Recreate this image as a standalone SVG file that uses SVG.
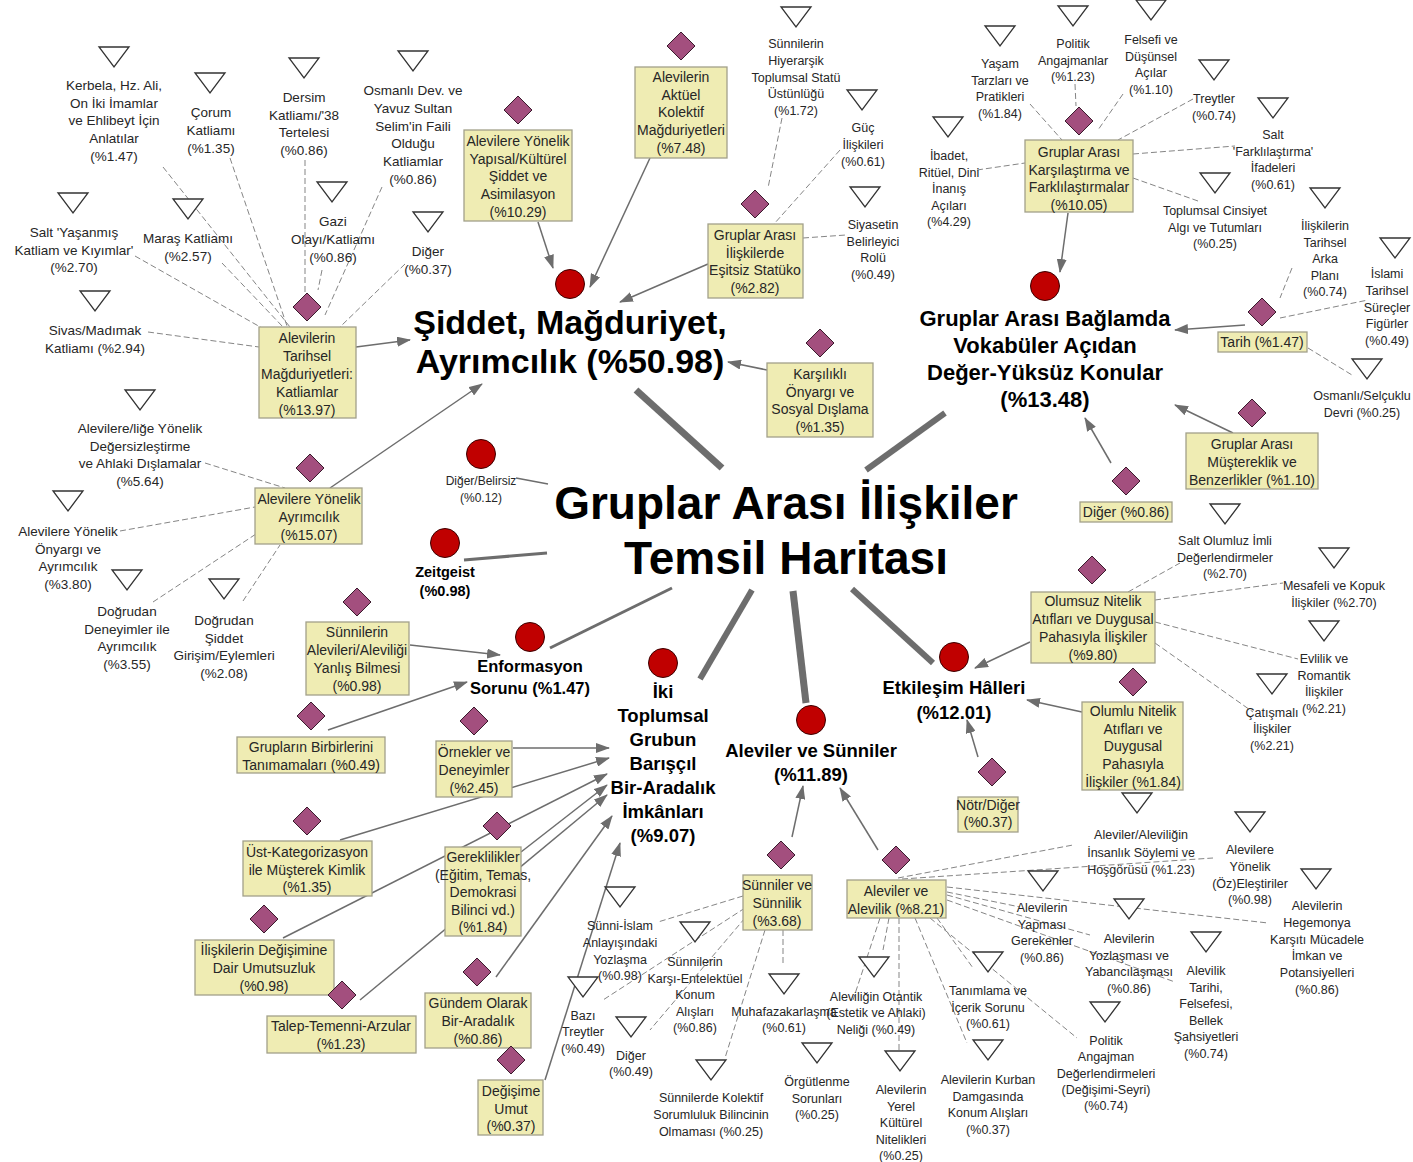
<svg xmlns="http://www.w3.org/2000/svg" width="1413" height="1162" viewBox="0 0 1413 1162">
<defs>
<style>
text{font-family:"Liberation Sans",Arial,sans-serif;text-anchor:middle;fill:#262626}
.b{font-size:14px}
.l{font-size:13.5px}
.s{font-size:12.5px}
.t1{font-weight:bold;fill:#000}
.box{fill:#efecb3;stroke:#a2a08a;stroke-width:1.3}
.dia{fill:#a34f7e;stroke:#3a1a2c;stroke-width:1}
.tri{fill:#fff;stroke:#333;stroke-width:1.3}
.dot{fill:#c00000;stroke:#3c0000;stroke-width:1}
.th{stroke:#6d6d6d;fill:none}
.ar{stroke:#6d6d6d;stroke-width:1.5;fill:none;marker-end:url(#ah)}
.da{stroke:#858585;stroke-width:1;stroke-dasharray:6 3;fill:none}
</style>
<marker id="ah" viewBox="0 0 14 10" refX="13" refY="5" markerWidth="14" markerHeight="10" markerUnits="userSpaceOnUse" orient="auto"><path d="M0,0 L14,5 L0,10 Z" fill="#6d6d6d"/></marker>
<path id="dm" d="M0,-14 L14,0 L0,14 L-14,0Z"/>
<path id="tr" d="M-15,-10 L15,-10 L0,10Z"/>
</defs>
<rect width="1413" height="1162" fill="#fff"/>

<g id="connectors">
<line class="th" stroke-width="7" x1="722" y1="468" x2="636" y2="390"/>
<line class="th" stroke-width="6" x1="866" y1="470" x2="945" y2="413"/>
<line class="th" stroke-width="1.5" x1="548" y1="484" x2="516" y2="478"/>
<line class="th" stroke-width="3" x1="547" y1="553" x2="464" y2="560"/>
<line class="th" stroke-width="3" x1="550" y1="648" x2="672" y2="588"/>
<line class="th" stroke-width="6" x1="752" y1="590" x2="700" y2="679"/>
<line class="th" stroke-width="7" x1="793" y1="591" x2="806" y2="703"/>
<line class="th" stroke-width="6" x1="852" y1="589" x2="933" y2="663"/>

<line class="ar" x1="356" y1="347" x2="410" y2="340"/>
<line class="ar" x1="538" y1="222" x2="553" y2="268"/>
<line class="ar" x1="650" y1="158" x2="590" y2="287"/>
<line class="ar" x1="708" y1="264" x2="620" y2="302"/>
<line class="ar" x1="767" y1="370" x2="728" y2="362"/>
<line class="ar" x1="330" y1="488" x2="482" y2="384"/>
<line class="ar" x1="410" y1="645" x2="500" y2="655"/>
<line class="ar" x1="328" y1="730" x2="467" y2="682"/>
<line class="ar" x1="513" y1="748" x2="609" y2="748"/>
<line class="ar" x1="340" y1="840" x2="609" y2="758"/>
<line class="ar" x1="283" y1="938" x2="607" y2="774"/>
<line class="ar" x1="521" y1="852" x2="607" y2="785"/>
<line class="ar" x1="360" y1="1000" x2="607" y2="795"/>
<line class="ar" x1="496" y1="977" x2="612" y2="816"/>
<line class="ar" x1="545" y1="1080" x2="620" y2="843"/>
<line class="ar" x1="792" y1="837" x2="803" y2="786"/>
<line class="ar" x1="878" y1="850" x2="840" y2="788"/>
<line class="ar" x1="1030" y1="642" x2="975" y2="668"/>
<line class="ar" x1="1082" y1="712" x2="1027" y2="700"/>
<line class="ar" x1="978" y1="757" x2="967" y2="720"/>
<line class="ar" x1="1068" y1="213" x2="1060" y2="272"/>
<line class="ar" x1="1245" y1="325" x2="1175" y2="330"/>
<line class="ar" x1="1233" y1="433" x2="1175" y2="405"/>
<line class="ar" x1="1111" y1="463" x2="1085" y2="418"/>

<line class="da" x1="163" y1="167" x2="290" y2="327"/>
<line class="da" x1="230" y1="158" x2="287" y2="326"/>
<line class="da" x1="305" y1="160" x2="305" y2="292"/>
<line class="da" x1="322" y1="270" x2="318" y2="290"/>
<line class="da" x1="382" y1="187" x2="325" y2="315"/>
<line class="da" x1="405" y1="264" x2="340" y2="327"/>
<line class="da" x1="135" y1="256" x2="262" y2="328"/>
<line class="da" x1="222" y1="263" x2="283" y2="327"/>
<line class="da" x1="148" y1="332" x2="259" y2="347"/>
<line class="da" x1="782" y1="118" x2="768" y2="188"/>
<line class="da" x1="840" y1="150" x2="774" y2="224"/>
<line class="da" x1="803" y1="238" x2="846" y2="235"/>
<line class="da" x1="1030" y1="104" x2="1062" y2="140"/>
<line class="da" x1="1075" y1="84" x2="1076" y2="106"/>
<line class="da" x1="1123" y1="94" x2="1098" y2="130"/>
<line class="da" x1="1193" y1="99" x2="1118" y2="140"/>
<line class="da" x1="1133" y1="154" x2="1235" y2="146"/>
<line class="da" x1="1133" y1="178" x2="1198" y2="201"/>
<line class="da" x1="977" y1="170" x2="1025" y2="163"/>
<line class="da" x1="1292" y1="268" x2="1280" y2="298"/>
<line class="da" x1="1280" y1="318" x2="1368" y2="300"/>
<line class="da" x1="1308" y1="348" x2="1352" y2="375"/>
<line class="da" x1="205" y1="463" x2="285" y2="488"/>
<line class="da" x1="120" y1="531" x2="255" y2="507"/>
<line class="da" x1="153" y1="602" x2="256" y2="534"/>
<line class="da" x1="243" y1="601" x2="280" y2="545"/>
<line class="da" x1="1128" y1="592" x2="1180" y2="563"/>
<line class="da" x1="1155" y1="600" x2="1283" y2="583"/>
<line class="da" x1="1155" y1="622" x2="1298" y2="659"/>
<line class="da" x1="1155" y1="643" x2="1253" y2="712"/>
<line class="da" x1="743" y1="896" x2="658" y2="922"/>
<line class="da" x1="745" y1="908" x2="603" y2="1000"/>
<line class="da" x1="745" y1="918" x2="650" y2="1030"/>
<line class="da" x1="765" y1="930" x2="725" y2="1058"/>
<line class="da" x1="783" y1="930" x2="783" y2="965"/>
<line class="da" x1="898" y1="878" x2="1073" y2="845"/>
<line class="da" x1="902" y1="879" x2="1213" y2="858"/>
<line class="da" x1="947" y1="887" x2="1268" y2="923"/>
<line class="da" x1="947" y1="892" x2="1020" y2="907"/>
<line class="da" x1="947" y1="895" x2="1090" y2="935"/>
<line class="da" x1="947" y1="900" x2="1175" y2="982"/>
<line class="da" x1="930" y1="918" x2="1077" y2="1038"/>
<line class="da" x1="937" y1="918" x2="973" y2="968"/>
<line class="da" x1="915" y1="918" x2="967" y2="1043"/>
<line class="da" x1="899" y1="918" x2="899" y2="1050"/>
<line class="da" x1="880" y1="918" x2="853" y2="1000"/>
<line class="da" x1="889" y1="918" x2="883" y2="950"/>
</g>

<g id="center"><text class="t1" x="786" y="519" font-size="46">Gruplar Arası İlişkiler</text><text class="t1" x="786" y="574" font-size="46">Temsil Haritası</text></g>

<g id="cat-siddet"><circle class="dot" cx="570" cy="284" r="14.5"/><text class="t1" font-size="34" x="570" y="334">Şiddet, Mağduriyet,</text><text class="t1" font-size="34" x="570" y="373">Ayrımcılık (%50.98)</text></g>
<g id="cat-baglam"><circle class="dot" cx="1045" cy="286" r="14.5"/><text class="t1" font-size="22" x="1045" y="326"><tspan x="1045">Gruplar Arası Bağlamda</tspan><tspan x="1045" dy="27">Vokabüler Açıdan</tspan><tspan x="1045" dy="27">Değer-Yüksüz Konular</tspan><tspan x="1045" dy="27">(%13.48)</tspan></text></g>
<g id="cat-belirsiz"><circle class="dot" cx="481" cy="454" r="14.5"/><text font-size="12" x="481" y="485"><tspan x="481">Diğer/Belirsiz</tspan><tspan x="481" dy="17">(%0.12)</tspan></text></g>
<g id="cat-zeitgeist"><circle class="dot" cx="445" cy="543" r="14.5"/><text class="t1" font-size="14.5" x="445" y="577"><tspan x="445">Zeitgeist</tspan><tspan x="445" dy="19">(%0.98)</tspan></text></g>
<g id="cat-enformasyon"><circle class="dot" cx="530" cy="637" r="14.5"/><text class="t1" font-size="16.5" x="530" y="672"><tspan x="530">Enformasyon</tspan><tspan x="530" dy="22">Sorunu (%1.47)</tspan></text></g>
<g id="cat-iki"><circle class="dot" cx="663" cy="663" r="14.5"/><text class="t1" font-size="18.5" x="663" y="698"><tspan x="663">İki</tspan><tspan x="663" dy="24">Toplumsal</tspan><tspan x="663" dy="24">Grubun</tspan><tspan x="663" dy="24">Barışçıl</tspan><tspan x="663" dy="24">Bir-Aradalık</tspan><tspan x="663" dy="24">İmkânları</tspan><tspan x="663" dy="24">(%9.07)</tspan></text></g>
<g id="cat-avs"><circle class="dot" cx="811" cy="720" r="14.5"/><text class="t1" font-size="18.5" x="811" y="757"><tspan x="811">Aleviler ve Sünniler</tspan><tspan x="811" dy="24">(%11.89)</tspan></text></g>
<g id="cat-etkilesim"><circle class="dot" cx="954" cy="657" r="14.5"/><text class="t1" font-size="18.5" x="954" y="694"><tspan x="954">Etkileşim Hâlleri</tspan><tspan x="954" dy="25">(%12.01)</tspan></text></g>

<g id="b-katliamlar"><use href="#dm" class="dia" x="307" y="307"/><rect class="box" x="259" y="327" width="97" height="91"/><text class="b" x="307" y="343"><tspan x="307">Alevilerin</tspan><tspan x="307" dy="18">Tarihsel</tspan><tspan x="307" dy="18">Mağduriyetleri:</tspan><tspan x="307" dy="18">Katliamlar</tspan><tspan x="307" dy="18">(%13.97)</tspan></text></g>
<g id="b-yapisal"><use href="#dm" class="dia" x="518" y="110"/><rect class="box" x="464" y="130" width="108" height="91"/><text class="b" x="518" y="146"><tspan x="518">Alevilere Yönelik</tspan><tspan x="518" dy="17.7">Yapısal/Kültürel</tspan><tspan x="518" dy="17.7">Şiddet ve</tspan><tspan x="518" dy="17.7">Asimilasyon</tspan><tspan x="518" dy="17.7">(%10.29)</tspan></text></g>
<g id="b-aktuel"><use href="#dm" class="dia" x="681" y="46"/><rect class="box" x="635" y="67" width="92" height="91"/><text class="b" x="681" y="82"><tspan x="681">Alevilerin</tspan><tspan x="681" dy="17.7">Aktüel</tspan><tspan x="681" dy="17.7">Kolektif</tspan><tspan x="681" dy="17.7">Mağduriyetleri</tspan><tspan x="681" dy="17.7">(%7.48)</tspan></text></g>
<g id="b-statuko"><use href="#dm" class="dia" x="755" y="204"/><rect class="box" x="708" y="224" width="95" height="74"/><text class="b" x="755" y="240"><tspan x="755">Gruplar Arası</tspan><tspan x="755" dy="17.7">İlişkilerde</tspan><tspan x="755" dy="17.7">Eşitsiz Statüko</tspan><tspan x="755" dy="17.7">(%2.82)</tspan></text></g>
<g id="b-karsilikli"><use href="#dm" class="dia" x="820" y="343"/><rect class="box" x="767" y="363" width="106" height="74"/><text class="b" x="820" y="379"><tspan x="820">Karşılıklı</tspan><tspan x="820" dy="17.7">Önyargı ve</tspan><tspan x="820" dy="17.7">Sosyal Dışlama</tspan><tspan x="820" dy="17.7">(%1.35)</tspan></text></g>
<g id="b-ayrimcilik"><use href="#dm" class="dia" x="310" y="468"/><rect class="box" x="255" y="488" width="107" height="56"/><text class="b" x="309" y="504"><tspan x="309">Alevilere Yönelik</tspan><tspan x="309" dy="18">Ayrımcılık</tspan><tspan x="309" dy="18">(%15.07)</tspan></text></g>
<g id="b-yanlis"><use href="#dm" class="dia" x="357" y="602"/><rect class="box" x="306" y="622" width="103" height="73"/><text class="b" x="357" y="637"><tspan x="357">Sünnilerin</tspan><tspan x="357" dy="18">Alevileri/Aleviliği</tspan><tspan x="357" dy="18">Yanlış Bilmesi</tspan><tspan x="357" dy="18">(%0.98)</tspan></text></g>
<g id="b-tanimama"><use href="#dm" class="dia" x="311" y="716"/><rect class="box" x="237" y="737" width="148" height="36"/><text class="b" x="311" y="752"><tspan x="311">Grupların Birbirlerini</tspan><tspan x="311" dy="18">Tanımamaları (%0.49)</tspan></text></g>
<g id="b-ornekler"><use href="#dm" class="dia" x="474" y="721"/><rect class="box" x="436" y="741" width="76" height="56"/><text class="b" x="474" y="757"><tspan x="474">Örnekler ve</tspan><tspan x="474" dy="18">Deneyimler</tspan><tspan x="474" dy="18">(%2.45)</tspan></text></g>
<g id="b-ustkat"><use href="#dm" class="dia" x="307" y="821"/><rect class="box" x="243" y="841" width="129" height="55"/><text class="b" x="307" y="857"><tspan x="307">Üst-Kategorizasyon</tspan><tspan x="307" dy="17.7">ile Müşterek Kimlik</tspan><tspan x="307" dy="17.7">(%1.35)</tspan></text></g>
<g id="b-gereklilik"><use href="#dm" class="dia" x="497" y="826"/><rect class="box" x="445" y="847" width="76" height="89"/><text class="b" x="483" y="862"><tspan x="483">Gereklilikler</tspan><tspan x="483" dy="17.6">(Eğitim, Temas,</tspan><tspan x="483" dy="17.6">Demokrasi</tspan><tspan x="483" dy="17.6">Bilinci vd.)</tspan><tspan x="483" dy="17.6">(%1.84)</tspan></text></g>
<g id="b-umutsuzluk"><use href="#dm" class="dia" x="264" y="919"/><rect class="box" x="195" y="940" width="139" height="55"/><text class="b" x="264" y="955"><tspan x="264">İlişkilerin Değişimine</tspan><tspan x="264" dy="18">Dair Umutsuzluk</tspan><tspan x="264" dy="18">(%0.98)</tspan></text></g>
<g id="b-talep"><use href="#dm" class="dia" x="342" y="995"/><rect class="box" x="267" y="1016" width="149" height="37"/><text class="b" x="341" y="1031"><tspan x="341">Talep-Temenni-Arzular</tspan><tspan x="341" dy="18">(%1.23)</tspan></text></g>
<g id="b-gundem"><use href="#dm" class="dia" x="477" y="972"/><rect class="box" x="425" y="993" width="106" height="55"/><text class="b" x="478" y="1008"><tspan x="478">Gündem Olarak</tspan><tspan x="478" dy="18">Bir-Aradalık</tspan><tspan x="478" dy="18">(%0.86)</tspan></text></g>
<g id="b-umut"><use href="#dm" class="dia" x="511" y="1060"/><rect class="box" x="478" y="1080" width="65" height="55"/><text class="b" x="511" y="1096"><tspan x="511">Değişime</tspan><tspan x="511" dy="17.5">Umut</tspan><tspan x="511" dy="17.5">(%0.37)</tspan></text></g>
<g id="b-sunniler"><use href="#dm" class="dia" x="781" y="855"/><rect class="box" x="743" y="875" width="69" height="55"/><text class="b" x="777" y="890" font-size="13.5"><tspan x="777">Sünniler ve</tspan><tspan x="777" dy="18">Sünnilik</tspan><tspan x="777" dy="18">(%3.68)</tspan></text></g>
<g id="b-aleviler"><use href="#dm" class="dia" x="896" y="860"/><rect class="box" x="847" y="880" width="99" height="38"/><text class="b" x="896" y="896"><tspan x="896">Aleviler ve</tspan><tspan x="896" dy="18">Alevilik (%8.21)</tspan></text></g>
<g id="b-olumsuz"><use href="#dm" class="dia" x="1092" y="570"/><rect class="box" x="1031" y="592" width="124" height="71"/><text class="b" x="1093" y="606"><tspan x="1093">Olumsuz Nitelik</tspan><tspan x="1093" dy="18">Atıfları ve Duygusal</tspan><tspan x="1093" dy="18">Pahasıyla İlişkiler</tspan><tspan x="1093" dy="18">(%9.80)</tspan></text></g>
<g id="b-olumlu"><use href="#dm" class="dia" x="1133" y="682"/><rect class="box" x="1082" y="702" width="101" height="88"/><text class="b" x="1133" y="716"><tspan x="1133">Olumlu Nitelik</tspan><tspan x="1133" dy="17.7">Atıfları ve</tspan><tspan x="1133" dy="17.7">Duygusal</tspan><tspan x="1133" dy="17.7">Pahasıyla</tspan><tspan x="1133" dy="17.7">İlişkiler (%1.84)</tspan></text></g>
<g id="b-notr"><use href="#dm" class="dia" x="992" y="772"/><rect class="box" x="958" y="797" width="60" height="35"/><text class="b" x="988" y="810" font-size="13"><tspan x="988">Nötr/Diğer</tspan><tspan x="988" dy="17">(%0.37)</tspan></text></g>
<g id="b-karsilastirma"><use href="#dm" class="dia" x="1079" y="121"/><rect class="box" x="1025" y="140" width="108" height="72"/><text class="b" x="1079" y="157"><tspan x="1079">Gruplar Arası</tspan><tspan x="1079" dy="17.5">Karşılaştırma ve</tspan><tspan x="1079" dy="17.5">Farklılaştırmalar</tspan><tspan x="1079" dy="17.5">(%10.05)</tspan></text></g>
<g id="b-tarih"><use href="#dm" class="dia" x="1262" y="312"/><rect class="box" x="1218" y="332" width="89" height="20"/><text class="b" x="1262" y="347">Tarih (%1.47)</text></g>
<g id="b-musterek"><use href="#dm" class="dia" x="1252" y="413"/><rect class="box" x="1186" y="433" width="132" height="56"/><text class="b" x="1252" y="449"><tspan x="1252">Gruplar Arası</tspan><tspan x="1252" dy="18">Müştereklik ve</tspan><tspan x="1252" dy="18">Benzerlikler (%1.10)</tspan></text></g>
<g id="b-diger2"><use href="#dm" class="dia" x="1126" y="481"/><rect class="box" x="1080" y="502" width="92" height="20"/><text class="b" x="1126" y="517">Diğer (%0.86)</text></g>

<g id="t-kerbela"><use href="#tr" class="tri" x="114" y="57"/><text class="l" x="114" y="90"><tspan x="114">Kerbela, Hz. Ali,</tspan><tspan x="114" dy="17.7">On İki İmamlar</tspan><tspan x="114" dy="17.7">ve Ehlibeyt İçin</tspan><tspan x="114" dy="17.7">Anlatılar</tspan><tspan x="114" dy="17.7">(%1.47)</tspan></text></g>
<g id="t-corum"><use href="#tr" class="tri" x="210" y="83"/><text class="l" x="211" y="117"><tspan x="211">Çorum</tspan><tspan x="211" dy="18">Katliamı</tspan><tspan x="211" dy="18">(%1.35)</tspan></text></g>
<g id="t-dersim"><use href="#tr" class="tri" x="304" y="68"/><text class="l" x="304" y="102"><tspan x="304">Dersim</tspan><tspan x="304" dy="17.7">Katliamı/'38</tspan><tspan x="304" dy="17.7">Tertelesi</tspan><tspan x="304" dy="17.7">(%0.86)</tspan></text></g>
<g id="t-gazi"><use href="#tr" class="tri" x="332" y="192"/><text class="l" x="333" y="226"><tspan x="333">Gazi</tspan><tspan x="333" dy="18">Olayı/Katliamı</tspan><tspan x="333" dy="18">(%0.86)</tspan></text></g>
<g id="t-osmanli"><use href="#tr" class="tri" x="413" y="61"/><text class="l" x="413" y="95"><tspan x="413">Osmanlı Dev. ve</tspan><tspan x="413" dy="17.8">Yavuz Sultan</tspan><tspan x="413" dy="17.8">Selim'in Faili</tspan><tspan x="413" dy="17.8">Olduğu</tspan><tspan x="413" dy="17.8">Katliamlar</tspan><tspan x="413" dy="17.8">(%0.86)</tspan></text></g>
<g id="t-diger1"><use href="#tr" class="tri" x="428" y="222"/><text class="l" x="428" y="256"><tspan x="428">Diğer</tspan><tspan x="428" dy="18">(%0.37)</tspan></text></g>
<g id="t-salt"><use href="#tr" class="tri" x="73" y="203"/><text class="l" x="74" y="237"><tspan x="74">Salt 'Yaşanmış</tspan><tspan x="74" dy="17.5">Katliam ve Kıyımlar'</tspan><tspan x="74" dy="17.5">(%2.70)</tspan></text></g>
<g id="t-maras"><use href="#tr" class="tri" x="188" y="209"/><text class="l" x="188" y="243"><tspan x="188">Maraş Katliamı</tspan><tspan x="188" dy="18">(%2.57)</tspan></text></g>
<g id="t-sivas"><use href="#tr" class="tri" x="95" y="301"/><text class="l" x="95" y="335"><tspan x="95">Sivas/Madımak</tspan><tspan x="95" dy="18">Katliamı (%2.94)</tspan></text></g>
<g id="t-degersiz"><use href="#tr" class="tri" x="140" y="400"/><text class="l" x="140" y="433"><tspan x="140">Alevilere/liğe Yönelik</tspan><tspan x="140" dy="17.7">Değersizleştirme</tspan><tspan x="140" dy="17.7">ve Ahlaki Dışlamalar</tspan><tspan x="140" dy="17.7">(%5.64)</tspan></text></g>
<g id="t-onyargi"><use href="#tr" class="tri" x="68" y="501"/><text class="l" x="68" y="536"><tspan x="68">Alevilere Yönelik</tspan><tspan x="68" dy="17.7">Önyargı ve</tspan><tspan x="68" dy="17.7">Ayrımcılık</tspan><tspan x="68" dy="17.7">(%3.80)</tspan></text></g>
<g id="t-dogrudan1"><use href="#tr" class="tri" x="127" y="580"/><text class="l" x="127" y="616"><tspan x="127">Doğrudan</tspan><tspan x="127" dy="17.7">Deneyimler ile</tspan><tspan x="127" dy="17.7">Ayrımcılık</tspan><tspan x="127" dy="17.7">(%3.55)</tspan></text></g>
<g id="t-dogrudan2"><use href="#tr" class="tri" x="224" y="589"/><text class="l" x="224" y="625"><tspan x="224">Doğrudan</tspan><tspan x="224" dy="17.7">Şiddet</tspan><tspan x="224" dy="17.7">Girişim/Eylemleri</tspan><tspan x="224" dy="17.7">(%2.08)</tspan></text></g>

<g id="t-hiyerarsik"><use href="#tr" class="tri" x="796" y="17"/><text class="s" x="796" y="48"><tspan x="796">Sünnilerin</tspan><tspan x="796" dy="16.8">Hiyerarşik</tspan><tspan x="796" dy="16.8">Toplumsal Statü</tspan><tspan x="796" dy="16.8">Üstünlüğü</tspan><tspan x="796" dy="16.8">(%1.72)</tspan></text></g>
<g id="t-guc"><use href="#tr" class="tri" x="862" y="100"/><text class="s" x="863" y="132"><tspan x="863">Güç</tspan><tspan x="863" dy="17">İlişkileri</tspan><tspan x="863" dy="17">(%0.61)</tspan></text></g>
<g id="t-siyaset"><use href="#tr" class="tri" x="865" y="197"/><text class="s" x="873" y="229"><tspan x="873">Siyasetin</tspan><tspan x="873" dy="16.5">Belirleyici</tspan><tspan x="873" dy="16.5">Rolü</tspan><tspan x="873" dy="16.5">(%0.49)</tspan></text></g>
<g id="t-yasam"><use href="#tr" class="tri" x="1000" y="36"/><text class="s" x="1000" y="68"><tspan x="1000">Yaşam</tspan><tspan x="1000" dy="16.7">Tarzları ve</tspan><tspan x="1000" dy="16.7">Pratikleri</tspan><tspan x="1000" dy="16.7">(%1.84)</tspan></text></g>
<g id="t-politik"><use href="#tr" class="tri" x="1073" y="16"/><text class="s" x="1073" y="48"><tspan x="1073">Politik</tspan><tspan x="1073" dy="16.5">Angajmanlar</tspan><tspan x="1073" dy="16.5">(%1.23)</tspan></text></g>
<g id="t-felsefi"><use href="#tr" class="tri" x="1151" y="10"/><text class="s" x="1151" y="44"><tspan x="1151">Felsefi ve</tspan><tspan x="1151" dy="16.7">Düşünsel</tspan><tspan x="1151" dy="16.7">Açılar</tspan><tspan x="1151" dy="16.7">(%1.10)</tspan></text></g>
<g id="t-treytler"><use href="#tr" class="tri" x="1214" y="70"/><text class="s" x="1214" y="103"><tspan x="1214">Treytler</tspan><tspan x="1214" dy="17">(%0.74)</tspan></text></g>
<g id="t-saltfark"><use href="#tr" class="tri" x="1273" y="108"/><text class="s" x="1273" y="139"><tspan x="1273">Salt</tspan><tspan x="1273" dy="16.7">'Farklılaştırma'</tspan><tspan x="1273" dy="16.7">İfadeleri</tspan><tspan x="1273" dy="16.7">(%0.61)</tspan></text></g>
<g id="t-cinsiyet"><use href="#tr" class="tri" x="1215" y="183"/><text class="s" x="1215" y="215"><tspan x="1215">Toplumsal Cinsiyet</tspan><tspan x="1215" dy="16.5">Algı ve Tutumları</tspan><tspan x="1215" dy="16.5">(%0.25)</tspan></text></g>
<g id="t-ibadet"><use href="#tr" class="tri" x="948" y="127"/><text class="s" x="949" y="160"><tspan x="949">İbadet,</tspan><tspan x="949" dy="16.6">Ritüel, Dini</tspan><tspan x="949" dy="16.6">İnanış</tspan><tspan x="949" dy="16.6">Açıları</tspan><tspan x="949" dy="16.6">(%4.29)</tspan></text></g>
<g id="t-tarihsel"><use href="#tr" class="tri" x="1325" y="198"/><text class="s" x="1325" y="230"><tspan x="1325">İlişkilerin</tspan><tspan x="1325" dy="16.6">Tarihsel</tspan><tspan x="1325" dy="16.6">Arka</tspan><tspan x="1325" dy="16.6">Planı</tspan><tspan x="1325" dy="16.6">(%0.74)</tspan></text></g>
<g id="t-islami"><use href="#tr" class="tri" x="1395" y="248"/><text class="s" x="1387" y="278"><tspan x="1387">İslami</tspan><tspan x="1387" dy="16.8">Tarihsel</tspan><tspan x="1387" dy="16.8">Süreçler</tspan><tspan x="1387" dy="16.8">Figürler</tspan><tspan x="1387" dy="16.8">(%0.49)</tspan></text></g>
<g id="t-osmselc"><use href="#tr" class="tri" x="1367" y="369"/><text class="s" x="1362" y="400"><tspan x="1362">Osmanlı/Selçuklu</tspan><tspan x="1362" dy="17">Devri (%0.25)</tspan></text></g>

<g id="t-saltolumluz"><use href="#tr" class="tri" x="1225" y="514"/><text class="s" x="1225" y="545"><tspan x="1225">Salt Olumluz İmli</tspan><tspan x="1225" dy="16.5">Değerlendirmeler</tspan><tspan x="1225" dy="16.5">(%2.70)</tspan></text></g>
<g id="t-mesafeli"><use href="#tr" class="tri" x="1334" y="558"/><text class="s" x="1334" y="590"><tspan x="1334">Mesafeli ve Kopuk</tspan><tspan x="1334" dy="16.5">İlişkiler (%2.70)</tspan></text></g>
<g id="t-evlilik"><use href="#tr" class="tri" x="1324" y="631"/><text class="s" x="1324" y="663"><tspan x="1324">Evlilik ve</tspan><tspan x="1324" dy="16.5">Romantik</tspan><tspan x="1324" dy="16.5">İlişkiler</tspan><tspan x="1324" dy="16.5">(%2.21)</tspan></text></g>
<g id="t-catismali"><use href="#tr" class="tri" x="1272" y="684"/><text class="s" x="1272" y="717"><tspan x="1272">Çatışmalı</tspan><tspan x="1272" dy="16.3">İlişkiler</tspan><tspan x="1272" dy="16.3">(%2.21)</tspan></text></g>

<g id="t-sunniislam"><use href="#tr" class="tri" x="620" y="897"/><text class="s" x="620" y="930"><tspan x="620">Sünni-İslam</tspan><tspan x="620" dy="16.8">Anlayışındaki</tspan><tspan x="620" dy="16.8">Yozlaşma</tspan><tspan x="620" dy="16.8">(%0.98)</tspan></text></g>
<g id="t-karsient"><use href="#tr" class="tri" x="695" y="932"/><text class="s" x="695" y="966"><tspan x="695">Sünnilerin</tspan><tspan x="695" dy="16.5">Karşı-Entelektüel</tspan><tspan x="695" dy="16.5">Konum</tspan><tspan x="695" dy="16.5">Alışları</tspan><tspan x="695" dy="16.5">(%0.86)</tspan></text></g>
<g id="t-bazi"><use href="#tr" class="tri" x="583" y="987"/><text class="s" x="583" y="1020"><tspan x="583">Bazı</tspan><tspan x="583" dy="16.3">Treytler</tspan><tspan x="583" dy="16.3">(%0.49)</tspan></text></g>
<g id="t-diger3"><use href="#tr" class="tri" x="631" y="1027"/><text class="s" x="631" y="1060"><tspan x="631">Diğer</tspan><tspan x="631" dy="16.3">(%0.49)</tspan></text></g>
<g id="t-muhafaza"><use href="#tr" class="tri" x="784" y="984"/><text class="s" x="784" y="1016"><tspan x="784">Muhafazakarlaşma</tspan><tspan x="784" dy="16.3">(%0.61)</tspan></text></g>
<g id="t-kolektif"><use href="#tr" class="tri" x="711" y="1070"/><text class="s" x="711" y="1102"><tspan x="711">Sünnilerde Kolektif</tspan><tspan x="711" dy="16.8">Sorumluluk Bilincinin</tspan><tspan x="711" dy="16.8">Olmaması (%0.25)</tspan></text></g>
<g id="t-orgut"><use href="#tr" class="tri" x="817" y="1053"/><text class="s" x="817" y="1086"><tspan x="817">Örgütlenme</tspan><tspan x="817" dy="16.5">Sorunları</tspan><tspan x="817" dy="16.5">(%0.25)</tspan></text></g>

<g id="t-insanlik"><use href="#tr" class="tri" x="1137" y="803"/><text class="s" x="1141" y="839"><tspan x="1141">Aleviler/Aleviliğin</tspan><tspan x="1141" dy="17.5">İnsanlık Söylemi ve</tspan><tspan x="1141" dy="17.5">Hoşgörüsü (%1.23)</tspan></text></g>
<g id="t-ozelestiri"><use href="#tr" class="tri" x="1250" y="822"/><text class="s" x="1250" y="854"><tspan x="1250">Alevilere</tspan><tspan x="1250" dy="16.8">Yönelik</tspan><tspan x="1250" dy="16.8">(Öz)Eleştiriler</tspan><tspan x="1250" dy="16.8">(%0.98)</tspan></text></g>
<g id="t-hegemonya"><use href="#tr" class="tri" x="1316" y="879"/><text class="s" x="1317" y="910"><tspan x="1317">Alevilerin</tspan><tspan x="1317" dy="16.8">Hegemonya</tspan><tspan x="1317" dy="16.8">Karşıtı Mücadele</tspan><tspan x="1317" dy="16.8">İmkan ve</tspan><tspan x="1317" dy="16.8">Potansiyelleri</tspan><tspan x="1317" dy="16.8">(%0.86)</tspan></text></g>
<g id="t-yapmasi"><use href="#tr" class="tri" x="1043" y="881"/><text class="s" x="1042" y="912"><tspan x="1042">Alevilerin</tspan><tspan x="1042" dy="16.5">Yapması</tspan><tspan x="1042" dy="16.5">Gerekenler</tspan><tspan x="1042" dy="16.5">(%0.86)</tspan></text></g>
<g id="t-yozlasma"><use href="#tr" class="tri" x="1129" y="909"/><text class="s" x="1129" y="943"><tspan x="1129">Alevilerin</tspan><tspan x="1129" dy="16.5">Yozlaşması ve</tspan><tspan x="1129" dy="16.5">Yabancılaşması</tspan><tspan x="1129" dy="16.5">(%0.86)</tspan></text></g>
<g id="t-alevilik"><use href="#tr" class="tri" x="1206" y="942"/><text class="s" x="1206" y="975"><tspan x="1206">Alevilik</tspan><tspan x="1206" dy="16.5">Tarihi,</tspan><tspan x="1206" dy="16.5">Felsefesi,</tspan><tspan x="1206" dy="16.5">Bellek</tspan><tspan x="1206" dy="16.5">Şahsiyetleri</tspan><tspan x="1206" dy="16.5">(%0.74)</tspan></text></g>
<g id="t-otantik"><use href="#tr" class="tri" x="874" y="967"/><text class="s" x="876" y="1001"><tspan x="876">Aleviliğin Otantik</tspan><tspan x="876" dy="16.3">(Estetik ve Ahlaki)</tspan><tspan x="876" dy="16.3">Neliği (%0.49)</tspan></text></g>
<g id="t-yerel"><use href="#tr" class="tri" x="900" y="1061"/><text class="s" x="901" y="1094"><tspan x="901">Alevilerin</tspan><tspan x="901" dy="16.5">Yerel</tspan><tspan x="901" dy="16.5">Kültürel</tspan><tspan x="901" dy="16.5">Nitelikleri</tspan><tspan x="901" dy="16.5">(%0.25)</tspan></text></g>
<g id="t-tanimlama"><use href="#tr" class="tri" x="988" y="962"/><text class="s" x="988" y="995"><tspan x="988">Tanımlama ve</tspan><tspan x="988" dy="16.5">İçerik Sorunu</tspan><tspan x="988" dy="16.5">(%0.61)</tspan></text></g>
<g id="t-kurban"><use href="#tr" class="tri" x="988" y="1050"/><text class="s" x="988" y="1084"><tspan x="988">Alevilerin Kurban</tspan><tspan x="988" dy="16.7">Damgasında</tspan><tspan x="988" dy="16.7">Konum Alışları</tspan><tspan x="988" dy="16.7">(%0.37)</tspan></text></g>
<g id="t-angajman"><use href="#tr" class="tri" x="1105" y="1012"/><text class="s" x="1106" y="1045"><tspan x="1106">Politik</tspan><tspan x="1106" dy="16.3">Angajman</tspan><tspan x="1106" dy="16.3">Değerlendirmeleri</tspan><tspan x="1106" dy="16.3">(Değişimi-Seyri)</tspan><tspan x="1106" dy="16.3">(%0.74)</tspan></text></g>
</svg>
